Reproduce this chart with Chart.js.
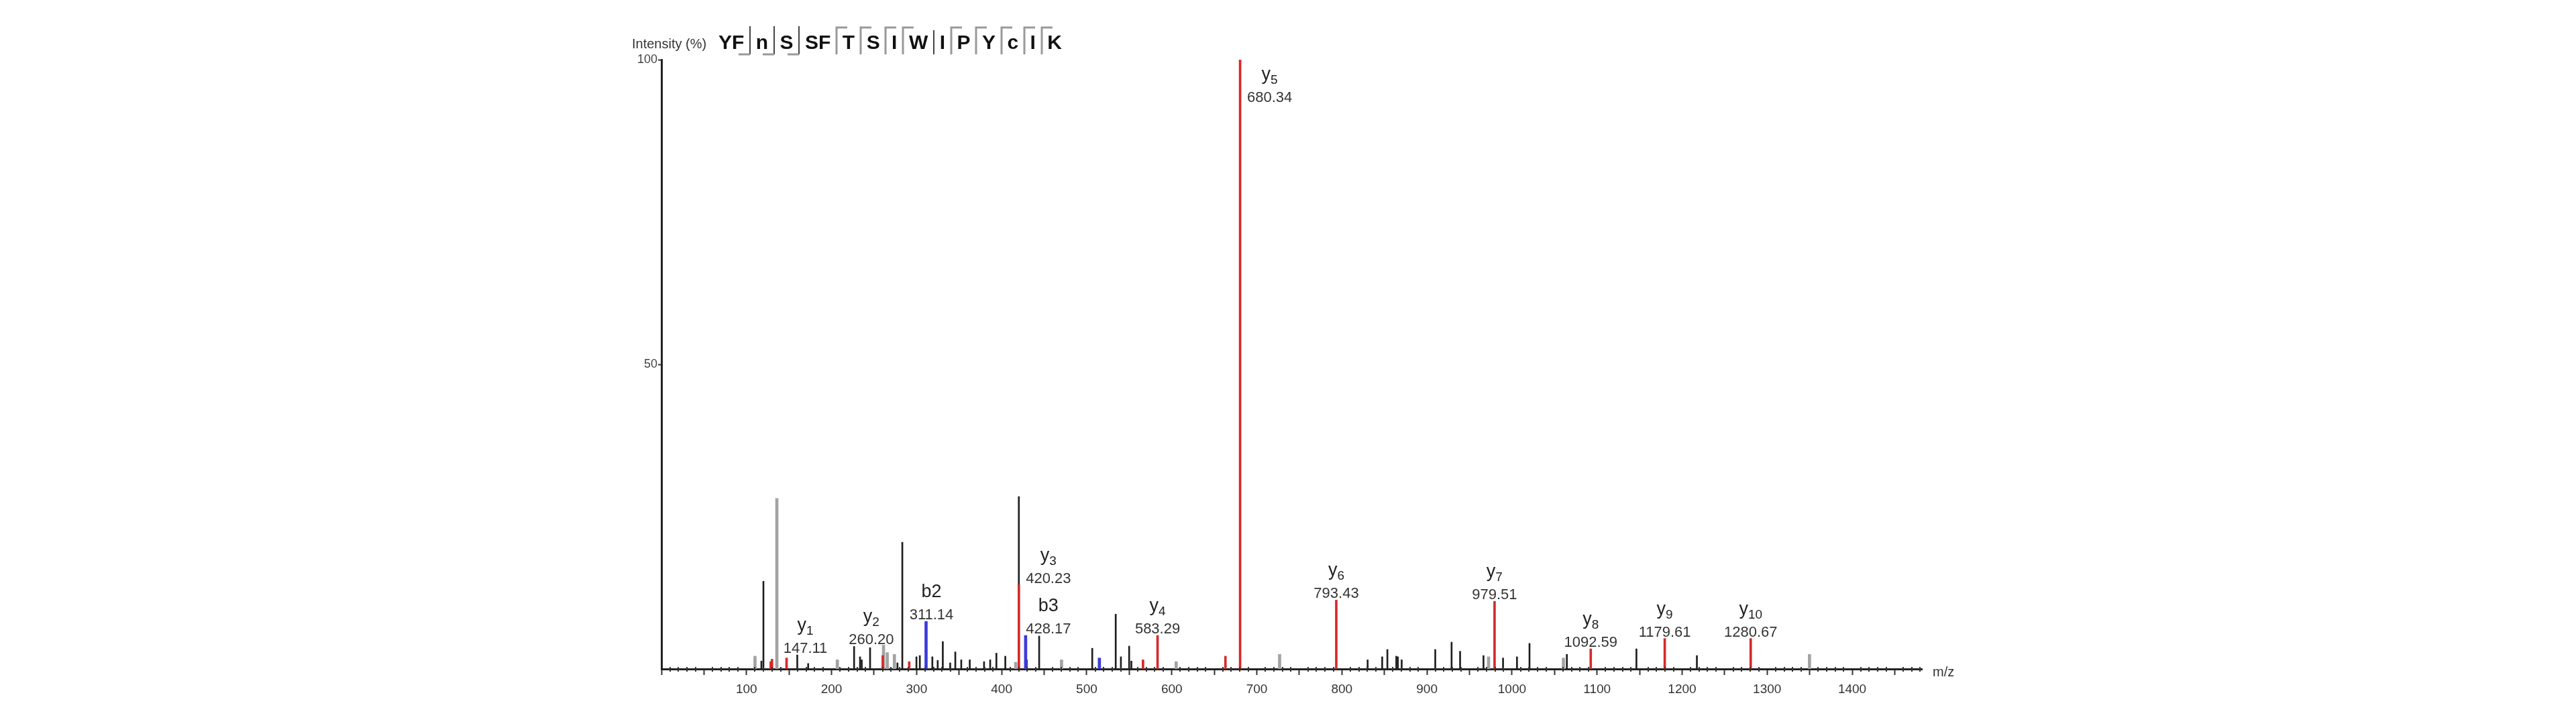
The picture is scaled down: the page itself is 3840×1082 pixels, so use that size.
<!DOCTYPE html>
<html>
<head>
<meta charset="utf-8">
<title>Spectrum</title>
<script src="https://cdn.jsdelivr.net/npm/chart.js@4/dist/chart.umd.min.js"></script>
<style>
  html, body { margin: 0; padding: 0; background: #fff; }
  #wrap { width: 3840px; height: 1082px; }
</style>
</head>
<body>
<div id="wrap"><canvas id="spectrum" width="3840" height="1082"></canvas></div>
<script>
// peptide sequence shown above the plot
const sequence = ['Y', 'F', 'n', 'S', 'S', 'F', 'T', 'S', 'I', 'W', 'I', 'P', 'Y', 'c', 'I', 'K'];
// fragment marks after residue i: 'b' = ⌋ , 'y' = ⌈ on next residue, 'line' = plain bar
const seqMarks = ['', 'b', 'b', 'b', '', 'y', 'y', 'y', 'y', 'line', 'y', 'y', 'y', 'y', 'y', ''];

// unmatched peaks (grey)
const greyMz = [110, 135.7, 206.8, 261.1, 265.5, 273.9, 416.5, 470.4, 605.2, 726.8, 972.5, 1060.5, 1349.8];
const greyInt = [2.1, 28.0, 1.5, 3.9, 2.7, 2.4, 1.1, 1.5, 1.2, 2.4, 2.0, 1.8, 2.4];

// unmatched peaks (black)
const blackMz = [117.5, 119.9, 159.7, 172.5, 226.5, 233.5, 235.5, 245.3, 277.5, 283.2,
                 299.8, 303.8, 318.5, 324.8, 330.8, 339.5, 345.5, 352.5, 362.5, 379.3,
                 386.5, 393.8, 404.3, 420.2, 429.5, 444.1, 506.5, 534.1, 540.2, 549.9,
                 552.5, 830.3, 847.4, 853.5, 864, 865.8, 870.3, 909.8, 929, 939,
                 966.5, 989.5, 1005.9, 1020.6, 1064.5, 1146.3, 1217.4];
const blackInt = [1.3, 14.4, 2.3, 0.9, 3.7, 2.0, 1.5, 3.5, 1.0, 20.8,
                  2.0, 2.2, 2.0, 1.4, 4.5, 1.0, 2.8, 1.5, 1.5, 1.2,
                  1.5, 2.6, 2.1, 28.3, 1.5, 5.4, 3.4, 9.0, 2.0, 3.75,
                  1.3, 1.5, 2.0, 3.2, 2.1, 2.0, 1.5, 3.2, 4.4, 2.9,
                  2.2, 1.8, 2.0, 4.2, 2.4, 3.3, 2.2];

// y-type matches (red)
const yMz = [128.5, 130, 147.11, 260.20, 291.3, 420.23, 566.2, 583.29, 663.1, 680.34, 793.43, 979.51, 1092.59, 1179.61, 1280.67];
const yInt = [1.2, 1.6, 1.8, 2.2, 1.2, 13.8, 1.5, 5.5, 2.1, 100, 11.3, 11.1, 3.3, 5.0, 5.0];

// b-type matches (blue)
const bMz = [311.14, 428.17, 514.9];
const bInt = [7.8, 5.5, 1.8];

// labelled ions
const ionNames = ['y1', 'y2', 'b2', 'y3', 'b3', 'y4', 'y5', 'y6', 'y7', 'y8', 'y9', 'y10'];
const ionMz = [147.11, 260.20, 311.14, 420.23, 428.17, 583.29, 680.34, 793.43, 979.51, 1092.59, 1179.61, 1280.67];

const xTicks = [100, 200, 300, 400, 500, 600, 700, 800, 900, 1000, 1100, 1200, 1300, 1400];
const yTicks = [50, 100];

// label nudges in pixels [dx, dy] where labels would collide
const labelNudge = { y1: [28, -5], y2: [-17, -14], b2: [8, 0], y3: [44, 0], b3: [34, 0], y5: [44, 66] };

const FONT = '"Liberation Sans", Arial, Helvetica, sans-serif';

function toPoints(mz, vals) {
    return mz.map((m, i) => ({ x: m, y: vals[i] }));
}

function intensityAt(mz) {
    let i = yMz.indexOf(mz);
    if (i >= 0) return yInt[i];
    i = bMz.indexOf(mz);
    return i >= 0 ? bInt[i] : 0;
}

const spectrumDecor = {
    id: 'spectrumDecor',
    afterDraw(chart) {
        const ctx = chart.ctx;
        const xs = chart.scales.x;
        const ys = chart.scales.y;
        const area = chart.chartArea;
        const base = ys.getPixelForValue(0);

        // minor ticks every 10
        ctx.save();
        ctx.strokeStyle = '#333';
        ctx.lineWidth = 2;
        for (let m = 10; m < xs.max; m += 10) {
            if (m % 50 === 0) continue;
            const px = Math.round(xs.getPixelForValue(m));
            ctx.beginPath();
            ctx.moveTo(px, base - 3);
            ctx.lineTo(px, base + 4);
            ctx.stroke();
        }
        ctx.restore();

        // m/z axis title
        ctx.save();
        ctx.fillStyle = '#333';
        ctx.font = '20px ' + FONT;
        ctx.textBaseline = 'middle';
        ctx.fillText('m/z', area.right + 16, base + 5);
        ctx.restore();

        // ion annotations
        ctx.save();
        ctx.fillStyle = '#222';
        ctx.textAlign = 'center';
        ctx.textBaseline = 'alphabetic';
        ionNames.forEach((name, i) => {
            const mz = ionMz[i];
            const nudge = labelNudge[name] || [0, 0];
            const cx = xs.getPixelForValue(mz) + nudge[0];
            const top = ys.getPixelForValue(intensityAt(mz));
            const numBase = Math.min(top, area.bottom) - 3 + nudge[1];
            ctx.font = '22px ' + FONT;
            ctx.fillStyle = '#333';
            ctx.fillText(mz.toFixed(2), cx, numBase);

            const ionBase = numBase - 33;
            ctx.fillStyle = '#222';
            if (name[0] === 'y') {
                const sub = name.slice(1);
                ctx.font = '27px ' + FONT;
                const w1 = ctx.measureText('y').width;
                ctx.font = '19px ' + FONT;
                const w2 = ctx.measureText(sub).width;
                const left = cx - (w1 + w2) / 2;
                ctx.textAlign = 'left';
                ctx.font = '27px ' + FONT;
                ctx.fillText('y', left, ionBase);
                ctx.font = '19px ' + FONT;
                ctx.fillText(sub, left + w1, ionBase + 6);
                ctx.textAlign = 'center';
            } else {
                ctx.font = '27px ' + FONT;
                ctx.fillText(name, cx, ionBase);
            }
        });
        ctx.restore();

        // header: axis title and sequence
        ctx.save();
        ctx.fillStyle = '#333';
        ctx.font = '20px ' + FONT;
        ctx.textBaseline = 'alphabetic';
        ctx.fillText('Intensity (%)', 942, 72);

        ctx.font = 'bold 30px ' + FONT;
        const startX = 1071, totalW = 512;
        const widths = sequence.map(s => ctx.measureText(s).width);
        const gapCount = seqMarks.filter(m => m).length;
        const gap = (totalW - widths.reduce((a, b) => a + b, 0)) / gapCount;
        let cur = startX;
        const top = 41, bottom = 81;
        sequence.forEach((res, i) => {
            ctx.fillStyle = '#111';
            ctx.fillText(res, cur, 73);
            cur += widths[i];
            const mark = seqMarks[i];
            if (!mark) return;
            const mx = Math.round(cur + gap / 2);
            if (mark === 'b') {
                ctx.strokeStyle = '#444';
                ctx.lineWidth = 2;
                ctx.beginPath(); ctx.moveTo(mx, top - 2); ctx.lineTo(mx, bottom); ctx.stroke();
                ctx.strokeStyle = '#999';
                ctx.lineWidth = 3;
                ctx.beginPath(); ctx.moveTo(mx - 17, bottom); ctx.lineTo(mx, bottom); ctx.stroke();
            } else if (mark === 'y') {
                ctx.strokeStyle = '#999';
                ctx.lineWidth = 3;
                ctx.beginPath(); ctx.moveTo(mx, bottom); ctx.lineTo(mx, top); ctx.lineTo(mx + 16, top); ctx.stroke();
            } else {
                ctx.strokeStyle = '#444';
                ctx.lineWidth = 2;
                ctx.beginPath(); ctx.moveTo(mx, top + 4); ctx.lineTo(mx, bottom); ctx.stroke();
            }
            cur += gap;
        });
        ctx.restore();
    }
};

const ctx = document.getElementById('spectrum').getContext('2d');
new Chart(ctx, {
    type: 'bar',
    data: {
        datasets: [
            { label: 'y ions', data: toPoints(yMz, yInt), backgroundColor: '#d42a2a', barThickness: 3, grouped: false },
            { label: 'b ions', data: toPoints(bMz, bInt), backgroundColor: '#3c3cd8', barThickness: 4, grouped: false },
            { label: 'other', data: toPoints(blackMz, blackInt), backgroundColor: '#1e1e1e', barThickness: 2, grouped: false },
            { label: 'other grey', data: toPoints(greyMz, greyInt), backgroundColor: '#a3a3a3', barThickness: 4, grouped: false }
        ]
    },
    options: {
        responsive: false,
        devicePixelRatio: 1,
        animation: false,
        layout: { padding: { left: 926, right: 975, top: 89, bottom: 25 } },
        plugins: {
            legend: { display: false },
            tooltip: { enabled: false }
        },
        scales: {
            x: {
                type: 'linear',
                min: 0,
                max: 1482,
                offset: false,
                afterFit: s => { s.height = 60; },
                border: { display: true, color: '#222', width: 3 },
                grid: { display: true, drawOnChartArea: false, drawTicks: true, tickLength: 9, tickWidth: 2, tickColor: '#333', offset: false },
                afterBuildTicks: s => { s.ticks = [0].concat(xTicks.flatMap(v => [v - 50, v])).concat([1450]).map(v => ({ value: v })); },
                ticks: {
                    includeBounds: false,
                    autoSkip: false,
                    maxRotation: 0,
                    padding: 10,
                    color: '#333',
                    font: { family: FONT, size: 19 },
                    callback: v => (xTicks.includes(v) ? String(v) : '')
                }
            },
            y: {
                min: 0,
                max: 100,
                afterFit: s => { s.width = 60; },
                border: { display: true, color: '#222', width: 3 },
                grid: { display: true, drawOnChartArea: false, drawTicks: true, tickLength: 5, tickWidth: 2, tickColor: '#333' },
                afterBuildTicks: s => { s.ticks = yTicks.map(v => ({ value: v })); },
                ticks: {
                    padding: 1,
                    color: '#444',
                    font: { family: FONT, size: 18 },
                    callback: v => String(v)
                }
            }
        }
    },
    plugins: [spectrumDecor]
});
</script>
</body>
</html>
